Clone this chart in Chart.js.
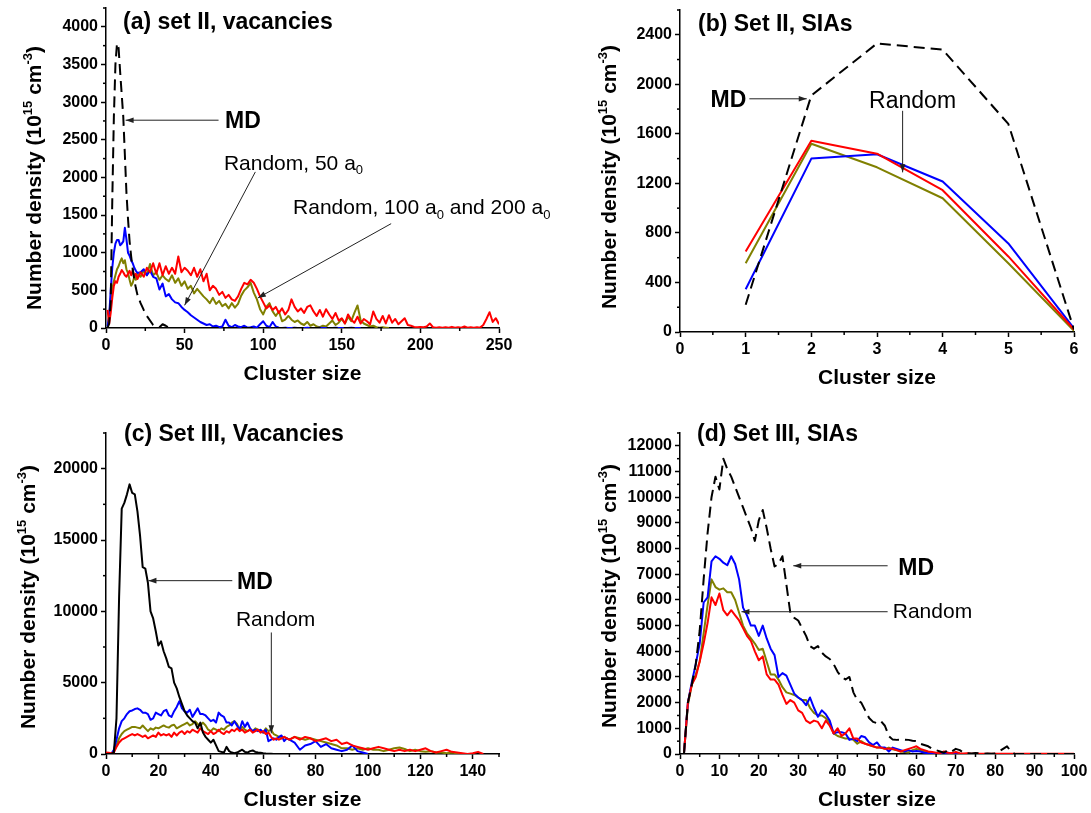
<!DOCTYPE html>
<html>
<head>
<meta charset="utf-8">
<title>Cluster size distributions</title>
<script src="https://cdn.jsdelivr.net/npm/chart.js@4/dist/chart.umd.min.js"></script>
<style>
  html, body { margin: 0; padding: 0; background: #fff; }
  #wrap { position: relative; width: 1091px; height: 813px; overflow: hidden; background: #fff; }
  #wrap canvas { position: absolute; left: 0; top: 0; }
</style>
</head>
<body>
<div id="wrap">
  <canvas id="pa" width="1091" height="813" style="width:1091px;height:813px"></canvas>
  <canvas id="pb" width="1091" height="813" style="width:1091px;height:813px"></canvas>
  <canvas id="pc" width="1091" height="813" style="width:1091px;height:813px"></canvas>
  <canvas id="pd" width="1091" height="813" style="width:1091px;height:813px"></canvas>
</div>
<script>
// ---------- (a) set II, vacancies ----------
const aSize = [1,2,3,4,5,6,7,8,9,10,11,12,13,14,15,16,17,18,19,20,
  22,24,26,28,30,32,34,36,38,40,42,44,46,48,50,52,54,56,58,60,
  62,64,66,68,70,72,74,76,78,80,82,84,86,88,90,92,94,96,98,100,
  102,104,106,108,110,112,114,116,118,120,122,124,126,128,130,132,134,136,138,140,
  142,144,146,148,150,152,154,156,158,160,162,164,166,168,170,172,174,176,178,180,
  182,184,186,188,190,192,194,196,198,200,202,204,206,208,210,212,214,216,218,220,
  222,224,226,228,230,232,234,236,238,240,242,244,246,248,250];
const aMD = [0,60,350,1700,2800,3500,3780,3720,3400,3100,2800,2300,1800,1450,1150,950,780,640,530,440,
  330,240,160,100,40,15,10,50,30,5,
  0,0,0,0,0,0,0,0,0,0, 0,0,0,0,0,0,0,0,0,0, 0,0,0,0,0,0,0,0,0,0,
  0,0,0,0,0,0,0,0,0,0, 0,0,0,0,0,0,0,0,0,0, 0,0,0,0,0,0,0,0,0,0,
  0,0,0,0,0,0,0,0];
const aBlue = [20,150,500,800,1000,1120,1170,1170,1100,1120,1150,1330,1180,1000,960,900,860,800,760,730,
  740,780,700,760,680,660,510,590,420,450,
  380,340,330,280,240,210,170,140,110,80,
  60,40,50,20,30,10,20,110,30,10,
  40,20,10,30,5,10,20,5,50,90,
  30,10,80,20,5,
  0,5,0,0,5,0,0,0,5,0,0,0,5,0,0,0,0,5,0,0,0,0,5,0,0,0,0,0];
const aOlive = [30,150,380,520,620,700,780,820,880,925,860,900,780,730,640,560,600,680,640,720,
  680,760,700,850,700,740,640,700,650,620,
  700,600,660,560,620,520,560,460,520,470,
  420,380,330,400,320,360,290,320,260,330,
  270,320,430,500,540,600,470,380,250,180,
  280,330,220,160,220,90,110,160,110,80,
  100,60,40,80,30,50,20,10,30,20,
  60,100,40,70,120,60,150,90,200,300,
  100,60,40,20,30,10,5,10,5,0];
const aRed = [240,50,200,400,560,620,600,680,720,770,740,700,680,720,760,700,770,680,720,650,
  740,680,800,740,860,720,860,700,820,720,
  800,720,950,740,800,760,700,800,680,780,
  620,720,500,560,520,440,480,400,440,380,
  360,420,520,600,580,640,600,520,420,340,
  260,300,240,280,200,260,180,240,380,280,
  220,260,200,280,300,220,160,240,150,250,
  180,120,200,100,130,60,180,110,70,150,
  60,120,90,50,220,120,70,160,60,170,
  70,120,50,90,130,40,30,15,10,15,
  10,20,60,10,5,10,5,10,5,15,
  5,10,5,20,5,10,5,10,5,40,
  120,210,80,130,50];
const aXTicks = [0,50,100,150,200,250];
const aYTicks = [0,500,1000,1500,2000,2500,3000,3500,4000];

// ---------- (b) Set II, SIAs ----------
const bSize = [1,2,3,4,5,6];
const bMD = [220,1910,2330,2280,1680,20];
const bRed = [650,1545,1440,1145,610,20];
const bOlive = [555,1520,1330,1080,555,10];
const bBlue = [345,1400,1435,1215,715,30];
const bXTicks = [0,1,2,3,4,5,6];
const bYTicks = [0,400,800,1200,1600,2000,2400];

// ---------- (c) Set III, Vacancies ----------
const cSize = [0,1,2,3,4,5,6,7,8,9,10,11,12,13,14,15,16,17,18,19,
  20,21,22,23,24,25,26,27,28,29,30,31,32,33,34,35,36,37,38,39,
  40,41,42,43,44,45,46,47,48,49,50,51,52,53,54,55,56,57,58,59,
  60,61,62,63,64,65,66,67,68,69,70,
  72,74,76,78,80,82,84,86,88,90,92,94,96,98,100,102,104,106,108,110,
  112,114,116,118,120,122,124,126,128,130,132,134,136,138,140,142,144];
const cMD = [0,0,0,100,2500,11000,17200,17600,18200,18900,
  18300,18200,17000,15300,13100,13000,12000,10000,9500,8600,
  7600,7900,7200,6700,6100,6000,5000,4600,4000,3500,
  3000,2700,2500,2300,2200,1800,2200,1500,1200,1000,
  800,1000,600,200,150,100,500,200,100,50,
  100,200,300,150,100,200,250,150,100,80,
  50,30,20,10,0];
const cBlue = [0,0,0,300,1000,1800,2300,2500,2800,3000,
  3050,3150,3200,3100,2900,2900,2800,2400,2500,2900,
  2800,2700,3000,3100,2700,2600,3000,3300,3700,3200,
  3000,2900,3100,2600,2900,3200,2800,2800,2700,2500,
  2300,2400,2200,2900,2700,2600,2200,2200,2000,2300,
  2000,1700,2300,1900,2200,1800,1600,1700,1600,1700,
  1500,1700,900,1000,1100,1000,1200,1300,900,1100,
  1000,
  800,300,600,700,900,500,700,400,300,200,300,600,200,100,0];
const cOlive = [0,0,0,200,600,1100,1400,1600,1700,1800,
  1900,1900,1850,1800,2000,1800,1600,1800,1700,1850,
  1800,1900,2000,1900,1850,2000,2050,1800,1900,2000,
  2100,2200,2000,2100,2300,2100,2000,2200,2000,1700,
  1600,1800,1700,1600,1800,1700,1900,2000,2200,2300,
  2100,1700,1900,1700,1600,1700,1600,1800,1700,1600,
  1500,1800,1600,1700,1400,1300,1200,1100,1200,1100,
  1000,
  1200,1100,1000,1100,1000,900,800,700,600,400,
  400,300,400,300,400,300,300,200,300,400,
  450,350,200,300,200,150,200,100,100,50,
  100,50,0];
const cRed = [100,80,50,100,500,800,1000,1100,1200,1300,
  1400,1300,1400,1300,1200,1300,1100,1200,1300,1200,
  1500,1300,1400,1300,1400,1200,1500,1300,1500,1600,
  1400,1600,1500,1700,1600,1500,1800,1600,1500,1400,
  1600,1400,1500,1700,1500,1400,1600,1500,1700,1600,
  1800,1600,1700,1500,1600,1700,1500,1600,1700,1500,
  1600,1400,1500,1200,1000,1100,1000,1100,1200,1100,
  1000,
  1200,1000,1200,1100,900,1000,1100,900,1000,700,
  800,600,500,400,300,400,500,400,300,200,
  300,200,300,200,300,400,200,100,200,300,
  150,100,50,0,50,150,0];
const cXTicks = [0,20,40,60,80,100,120,140];
const cYTicks = [0,5000,10000,15000,20000];

// ---------- (d) Set III, SIAs ----------
const dSize = [1,2,3,4,5,6,7,8,9,10,11,12,13,14,15,16,17,18,19,20,
  21,22,23,24,25,26,27,28,29,30,31,32,33,34,35,36,37,38,39,40,
  41,42,43,44,45,46,47,48,49,50,51,52,53,54,55,56,57,58,59,60,
  61,62,63,64,65,66,67,68,69,70,71,72,73,74,75,76,77,78,79,80,
  81,82,83,84,85,86,87,88,89,90,91,92,93,94,95,96,97,98,99,100];
const dMD = [0,2000,2700,3500,4800,6800,8600,10000,10800,10300,
  11500,11100,10800,10400,10000,9600,9200,8800,8300,9100,
  9500,8800,8000,7300,7400,7700,6600,5500,5300,5200,
  4900,4600,4200,4100,4200,3950,3800,3700,3500,3200,
  3000,2900,3000,2400,2100,2000,1700,1400,1250,1200,
  1280,1100,700,560,550,560,560,550,520,500,
  400,350,300,200,150,100,50,150,100,200,
  150,50,30,20,40,20,10,20,10,20,
  100,200,300,100,0,0,0,0,0,0,
  0,0,0,0,0,0,0,0,0,0];
const dBlue = [0,2000,2800,3500,4300,5900,6100,7500,7700,7600,
  7450,7350,7700,7400,6800,5700,5400,5000,5000,4600,
  5000,4500,4100,3850,3000,3150,3050,2700,2350,2200,
  2100,1900,2200,1800,1450,1700,1550,1300,800,850,
  850,800,550,600,500,700,650,450,350,450,
  250,250,100,250,200,150,100,150,100,120,
  100,50,30,20,10,20,10,50,10,0,
  0,0];
const dOlive = [0,1900,2700,3100,3600,4700,5800,6800,6500,6400,
  6450,6300,6300,6000,5500,5000,4700,4500,4300,4050,
  4100,3600,3100,3100,2900,2600,2400,2350,2300,2200,
  2100,2100,1800,1600,1500,1500,1400,1200,800,700,
  650,600,600,550,400,500,400,350,300,250,
  250,200,250,180,150,100,80,60,150,200,
  150,100,60,40,30,20,40,30,20,10,
  0];
const dRed = [0,2000,2700,3000,3600,4300,5100,6100,5800,6250,
  5600,5400,5600,5400,5200,4900,4600,4400,4000,3650,
  3800,3100,2900,2900,2700,2300,1950,2100,2000,1700,
  1600,1300,1200,1300,1250,1000,1300,1100,800,1000,
  700,800,1000,600,600,450,400,350,300,250,
  250,200,200,200,150,100,150,200,250,300,
  200,150,100,80,50,30,100,50,40,80,
  30,20,30,10,20,10,5,10,5,10,
  5,10,5,10,5,5,10,5,5,10,
  5,5,10,5,5,5,10,5,5,5];
const dXTicks = [0,10,20,30,40,50,60,70,80,90,100];
const dYTicks = [0,1000,2000,3000,4000,5000,6000,7000,8000,9000,10000,11000,12000];

// ---------- shared drawing setup ----------
const FONT = '"Liberation Sans", Arial, Helvetica, sans-serif';
const PAGE_W = 1091, PAGE_H = 813;
const Y_AXIS_W = 70, X_AXIS_H = 60;
const BLUE = '#0000ff', RED = '#ff0000', OLIVE = '#808000', BLACK = '#000000';
const MD_DASH = [11, 6];
const Y_TITLE = [['Number density (10', ''], ['15', 'sup'], [' cm', ''], ['-3', 'sup'], [')', '']];

// draws a run of text pieces, some raised or lowered
function richText(ctx, parts, x, y, size, weight, align) {
  const small = Math.round(size * 0.62);
  const segs = parts.map(([t, mode]) => {
    const fs = mode ? small : size;
    ctx.font = `${weight} ${fs}px ${FONT}`;
    return { t, mode, fs, w: ctx.measureText(t).width };
  });
  const total = segs.reduce((s, p) => s + p.w, 0);
  let cx = align === 'center' ? x - total / 2 : (align === 'right' ? x - total : x);
  ctx.textAlign = 'left';
  ctx.textBaseline = 'alphabetic';
  for (const p of segs) {
    ctx.font = `${weight} ${p.fs}px ${FONT}`;
    const dy = p.mode === 'sup' ? -size * 0.42 : (p.mode === 'sub' ? size * 0.22 : 0);
    ctx.fillText(p.t, cx, y + dy);
    cx += p.w;
  }
}

function drawArrow(ctx, x1, y1, x2, y2) {
  ctx.beginPath();
  ctx.moveTo(x1, y1);
  ctx.lineTo(x2, y2);
  ctx.stroke();
  const ang = Math.atan2(y2 - y1, x2 - x1), L = 8, hw = 2.8;
  const bx = x2 - L * Math.cos(ang), by = y2 - L * Math.sin(ang);
  ctx.beginPath();
  ctx.moveTo(x2, y2);
  ctx.lineTo(bx + hw * Math.sin(ang), by - hw * Math.cos(ang));
  ctx.lineTo(bx - hw * Math.sin(ang), by + hw * Math.cos(ang));
  ctx.closePath();
  ctx.fill();
}

// minor ticks, panel title, axis titles and labelled arrows
const panelDecor = {
  id: 'panelDecor',
  afterDraw(chart, args, o) {
    const { ctx, chartArea: a, scales } = chart;
    const xs = scales.x, ys = scales.y;
    ctx.save();
    ctx.strokeStyle = '#000';
    ctx.fillStyle = '#000';
    ctx.lineWidth = 1.5;
    const eps = 1e-6;
    for (let v = xs.min; v <= xs.max + eps; v += o.xMinor) {
      if (o.xMajor.some(m => Math.abs(m - v) < eps)) continue;
      const px = xs.getPixelForValue(v);
      ctx.beginPath(); ctx.moveTo(px, a.bottom); ctx.lineTo(px, a.bottom + 3); ctx.stroke();
    }
    for (let v = ys.min; v <= ys.max + eps; v += o.yMinor) {
      if (o.yMajor.some(m => Math.abs(m - v) < eps)) continue;
      const py = ys.getPixelForValue(v);
      ctx.beginPath(); ctx.moveTo(a.left, py); ctx.lineTo(a.left - 3, py); ctx.stroke();
    }
    richText(ctx, [[o.title, '']], o.titleX, o.titleY, 23, 'bold', 'left');
    richText(ctx, [['Cluster size', '']], (a.left + a.right) / 2, a.bottom + 52, 21, 'bold', 'center');
    ctx.save();
    ctx.translate(o.yTitleX, o.yTitleY);
    ctx.rotate(-Math.PI / 2);
    richText(ctx, Y_TITLE, 0, 7.5, 21, 'bold', 'center');
    ctx.restore();
    ctx.lineWidth = 1;
    ctx.strokeStyle = '#222';
    ctx.fillStyle = '#222';
    for (const n of o.notes) {
      const [x1, y1, x2, y2] = n.arrow;
      drawArrow(ctx, xs.getPixelForValue(x1), ys.getPixelForValue(y1), xs.getPixelForValue(x2), ys.getPixelForValue(y2));
    }
    ctx.fillStyle = '#000';
    for (const n of o.notes) {
      const px = xs.getPixelForValue(n.x), py = ys.getPixelForValue(n.y);
      richText(ctx, n.parts, px, py + n.size * 0.36, n.size, n.weight, n.align);
    }
    ctx.restore();
  }
};

function axisOptions(min, max, majors, isX) {
  return {
    type: 'linear',
    min, max,
    afterBuildTicks: s => { s.ticks = majors.map(v => ({ value: v })); },
    afterFit: s => {
      if (isX) { s.height = X_AXIS_H; s.paddingLeft = 0; s.paddingRight = 0; }
      else { s.width = Y_AXIS_W; s.paddingTop = 0; s.paddingBottom = 0; }
    },
    ticks: {
      callback: v => String(v),
      font: { family: FONT, size: 16, weight: 'bold' },
      color: '#000',
      padding: 3,
      maxRotation: 0,
      minRotation: 0,
      autoSkip: false
    },
    grid: { display: true, drawOnChartArea: false, drawTicks: true, tickLength: 5, tickColor: '#000', tickWidth: 1.5 },
    border: { display: true, color: '#000', width: 1.5 }
  };
}

function line(sizes, values, color, dash, width) {
  return {
    data: values.map((v, i) => ({ x: sizes[i], y: v })),
    borderColor: color,
    borderWidth: width || 2,
    borderDash: dash || [],
    borderJoinStyle: 'round',
    pointRadius: 0,
    fill: false,
    tension: 0
  };
}

function makePanel(id, p) {
  new Chart(document.getElementById(id), {
    type: 'line',
    data: { datasets: p.datasets },
    options: {
      responsive: false,
      animation: false,
      devicePixelRatio: 1,
      events: [],
      layout: {
        padding: {
          left: p.box.left - Y_AXIS_W,
          right: PAGE_W - p.box.right,
          top: p.box.top,
          bottom: PAGE_H - p.box.bottom - X_AXIS_H
        }
      },
      scales: {
        x: axisOptions(p.x[0], p.x[1], p.xTicks, true),
        y: axisOptions(p.y[0], p.y[1], p.yTicks, false)
      },
      plugins: {
        legend: { display: false },
        tooltip: { enabled: false },
        panelDecor: {
          xMajor: p.xTicks, xMinor: p.xMinor, yMajor: p.yTicks, yMinor: p.yMinor,
          title: p.title, titleX: p.titleX, titleY: p.titleY,
          yTitleX: p.yTitleX, yTitleY: p.yTitleY,
          notes: p.notes
        }
      }
    },
    plugins: [panelDecor]
  });
}

makePanel('pa', {
  box: { left: 106, right: 499, top: 8, bottom: 328 },
  x: [0, 250], xTicks: aXTicks, xMinor: 25,
  y: [0, 4250], yTicks: aYTicks, yMinor: 250,
  title: '(a) set II, vacancies', titleX: 123, titleY: 29,
  yTitleX: 33, yTitleY: 178,
  datasets: [
    line(aSize, aMD, BLACK, MD_DASH),
    line(aSize, aRed, RED),
    line(aSize, aBlue, BLUE),
    line(aSize, aOlive, OLIVE)
  ],
  notes: [
    { parts: [['MD', '']], x: 75.7, y: 2760, size: 23, weight: 'bold', align: 'left', arrow: [71.6, 2760, 12.5, 2760] },
    { parts: [['Random, 50 a', ''], ['0', 'sub']], x: 75, y: 2205, size: 21, weight: 'normal', align: 'left', arrow: [95, 2073, 50, 301] },
    { parts: [['Random, 100 a', ''], ['0', 'sub'], [' and 200 a', ''], ['0', 'sub']], x: 119, y: 1608, size: 21, weight: 'normal', align: 'left', arrow: [181.4, 1386, 96.6, 399] }
  ]
});

makePanel('pb', {
  box: { left: 680, right: 1074, top: 10, bottom: 332 },
  x: [0, 6], xTicks: bXTicks, xMinor: 0.5,
  y: [0, 2600], yTicks: bYTicks, yMinor: 200,
  title: '(b) Set II, SIAs', titleX: 698, titleY: 31,
  yTitleX: 608, yTitleY: 177,
  datasets: [
    line(bSize, bMD, BLACK, MD_DASH),
    line(bSize, bRed, RED),
    line(bSize, bBlue, BLUE),
    line(bSize, bOlive, OLIVE)
  ],
  notes: [
    { parts: [['MD', '']], x: 1.01, y: 1883, size: 23, weight: 'bold', align: 'right', arrow: [1.056, 1883, 1.93, 1883] },
    { parts: [['Random', '']], x: 2.88, y: 1875, size: 23, weight: 'normal', align: 'left', arrow: [3.39, 1786, 3.39, 1289] }
  ]
});

makePanel('pc', {
  box: { left: 106, right: 499, top: 433, bottom: 754 },
  x: [0, 150], xTicks: cXTicks, xMinor: 10,
  y: [0, 22500], yTicks: cYTicks, yMinor: 2500,
  title: '(c) Set III, Vacancies', titleX: 124, titleY: 441,
  yTitleX: 27, yTitleY: 597,
  datasets: [
    line(cSize, cMD, BLACK),
    line(cSize, cRed, RED),
    line(cSize, cBlue, BLUE),
    line(cSize, cOlive, OLIVE)
  ],
  notes: [
    { parts: [['MD', '']], x: 50, y: 12112, size: 23, weight: 'bold', align: 'left', arrow: [48.2, 12150, 16.2, 12150] },
    { parts: [['Random', '']], x: 49.6, y: 9498, size: 21, weight: 'normal', align: 'left', arrow: [63.1, 8518, 63.1, 1447] }
  ]
});

makePanel('pd', {
  box: { left: 680, right: 1074, top: 433, bottom: 754 },
  x: [0, 100], xTicks: dXTicks, xMinor: 5,
  y: [0, 12500], yTicks: dYTicks, yMinor: 500,
  title: '(d) Set III, SIAs', titleX: 697, titleY: 441,
  yTitleX: 608, yTitleY: 596,
  datasets: [
    line(dSize, dMD, BLACK, MD_DASH),
    line(dSize, dRed, RED),
    line(dSize, dBlue, BLUE),
    line(dSize, dOlive, OLIVE)
  ],
  notes: [
    { parts: [['MD', '']], x: 55.4, y: 7291, size: 23, weight: 'bold', align: 'left', arrow: [52.7, 7330, 28.75, 7330] },
    { parts: [['Random', '']], x: 54, y: 5605, size: 21, weight: 'normal', align: 'left', arrow: [52.7, 5540, 15.6, 5540] }
  ]
});
</script>
</body>
</html>
